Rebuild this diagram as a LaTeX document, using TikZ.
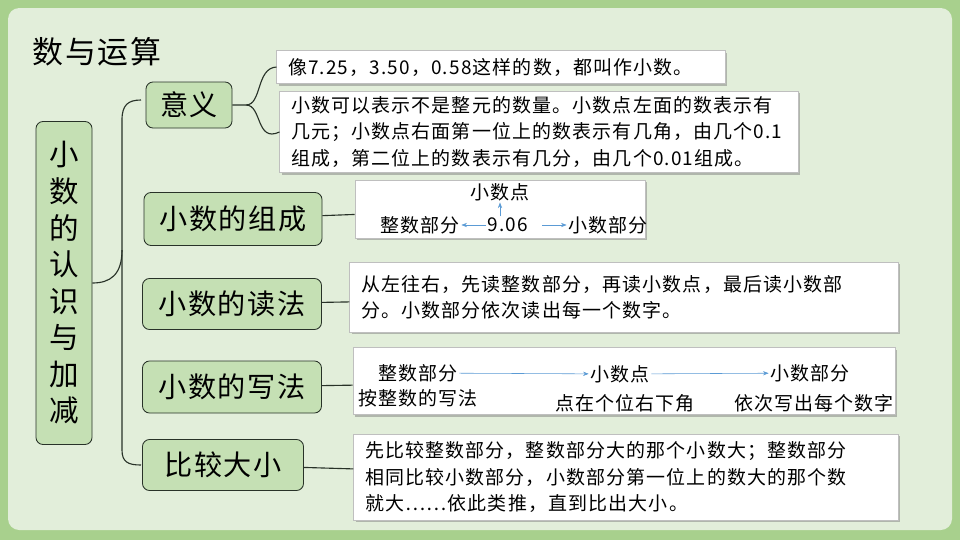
\documentclass[tikz,border=0pt]{standalone}
\usepackage{fontspec}
\setmainfont{Noto Sans CJK SC}
\usetikzlibrary{arrows.meta}
\usetikzlibrary{positioning}
\usetikzlibrary{shadows}
\definecolor{mmback}  {RGB}{168,208,141}
\definecolor{mmpanel} {RGB}{226,238,218}
\definecolor{mmnode}  {RGB}{197,224,180}
\definecolor{mmedge}  {RGB}{40,50,40}
\definecolor{mmarrow} {RGB}{91,155,213}

\begin{document}
\begin{tikzpicture}[x=0.025cm, y=-0.025cm,
    topic/.style={rectangle, rounded corners=5pt, fill=mmnode,
      draw=mmedge, semithick, inner sep=3pt,
      font=\fontsize{20}{24}\selectfont\addfontfeature{LetterSpace=6}},
    note/.style={rectangle, fill=white, draw=black!25,
      drop shadow={shadow xshift=1.5pt, shadow yshift=-1.5pt, opacity=0.5},
      align=left, inner xsep=8pt, inner ysep=4pt,
      font=\fontsize{13.5}{18.5}\selectfont\addfontfeature{LetterSpace=6}},
    word/.style={inner sep=1pt, font=\fontsize{13.5}{15}\selectfont\addfontfeature{LetterSpace=6}},
    link/.style={mmedge, thick},
    flow/.style={mmarrow, -{Stealth[length=4pt]}}]

    % background
    \fill [mmback] (0,0) rectangle (960,540);
    \fill [mmpanel, rounded corners=8pt] (8,8) rectangle (952,530);

    % title
    \node (title) at (97,52) {\fontsize{22}{26}\selectfont\addfontfeature{LetterSpace=6}数与运算};

    % main topic
    \node (main)
      [topic, align=center, inner sep=0pt,
       font=\fontsize{21}{26}\selectfont,
       minimum width=56*0.025cm, minimum height=323*0.025cm]
      at (64,283)
      {小\\数\\的\\认\\识\\与\\加\\减};

    % sub topics
    \node (mean) [topic, minimum width=86*0.025cm, minimum height=46*0.025cm]
      at (189,105) {意义};
    \node (comp) [topic, minimum width=178*0.025cm, minimum height=53*0.025cm]
      at (233,219) {小数的组成};
    \node (read) [topic, minimum width=179*0.025cm, minimum height=51*0.025cm]
      at (232,304) {小数的读法};
    \node (write) [topic, minimum width=179*0.025cm, minimum height=52*0.025cm]
      at (232,387) {小数的写法};
    \node (cmp) [topic, minimum width=161*0.025cm, minimum height=51*0.025cm]
      at (223,465) {比较大小};

    % notes
    \node (mean1) [note, text width=426*0.025cm, minimum height=33*0.025cm]
      at (501,67) {像7.25，3.50，0.58这样的数，都叫作小数。};
    \node (mean2) [note, text width=496*0.025cm, minimum height=80*0.025cm]
      at (539,132)
      {小数可以表示不是整元的数量。小数点左面的数表示有\\
       几元；小数点右面第一位上的数表示有几角，由几个0.1\\
       组成，第二位上的数表示有几分，由几个0.01组成。};
    \node (compbox) [note, minimum width=290*0.025cm, minimum height=58*0.025cm]
      at (500,209) {};
    \node (readbox) [note, text width=526*0.025cm, minimum height=70*0.025cm]
      at (624,297)
      {从左往右，先读整数部分，再读小数点，最后读小数部\\
       分。小数部分依次读出每一个数字。};
    \node (writebox) [note, minimum width=542*0.025cm, minimum height=67*0.025cm]
      at (624,381) {};
    \node (cmpbox) [note, text width=522*0.025cm, minimum height=86*0.025cm]
      at (626,477)
      {先比较整数部分，整数部分大的那个小数大；整数部分\\
       相同比较小数部分，小数部分第一位上的数大的那个数\\
       就大……依此类推，直到比出大小。};

    % composition
    \node (num) [word] at (508,225) {9.06};
    \node (point) [word] at (500,192) {小数点};
    \node (intpart) [word] at (420,225) {整数部分};
    \node (decpart) [word] at (608,225) {小数部分};
    \coordinate (numr) at (542,225);
    \draw [flow] (num.north -| point.south) -- (point.south);
    \draw [flow] (num.west) -- (intpart.east);
    \draw [flow] (numr) -- (decpart.west);

    % writing
    \node (wint) [word] at (418,373) {整数部分};
    \node (wpoint) [word] at (620,374) {小数点};
    \node (wdec) [word] at (810,373) {小数部分};
    \node (wint2) [word] at (418,398) {按整数的写法};
    \node (wpoint2) [word] at (625,403) {点在个位右下角};
    \node (wdec2) [word] at (814,403) {依次写出每个数字};
    \draw [flow] (wint) -- (wpoint);
    \draw [flow] (wpoint) -- (wdec);

    % braces
    \draw [link] (main.east) .. controls (110,283) and (122,275) .. (122,250)
      -- (122,120) .. controls (122,105) and (128,100) .. (141,100);
    \draw [link] (122,250) -- (122,450) .. controls (122,462) and (128,465) .. (141,465);
    \draw [link] (mean.east) -- (246,105) .. controls (262,105) and (256,68) .. (mean1.west);
    \draw [link] (246,105) .. controls (262,105) and (256,143) .. (mean2.west);

    % edges
    \path [link]
      (comp) edge (compbox)
      (read) edge (readbox)
      (write) edge (writebox)
      (cmp) edge (cmpbox)
      ;
\end{tikzpicture}
\end{document}
